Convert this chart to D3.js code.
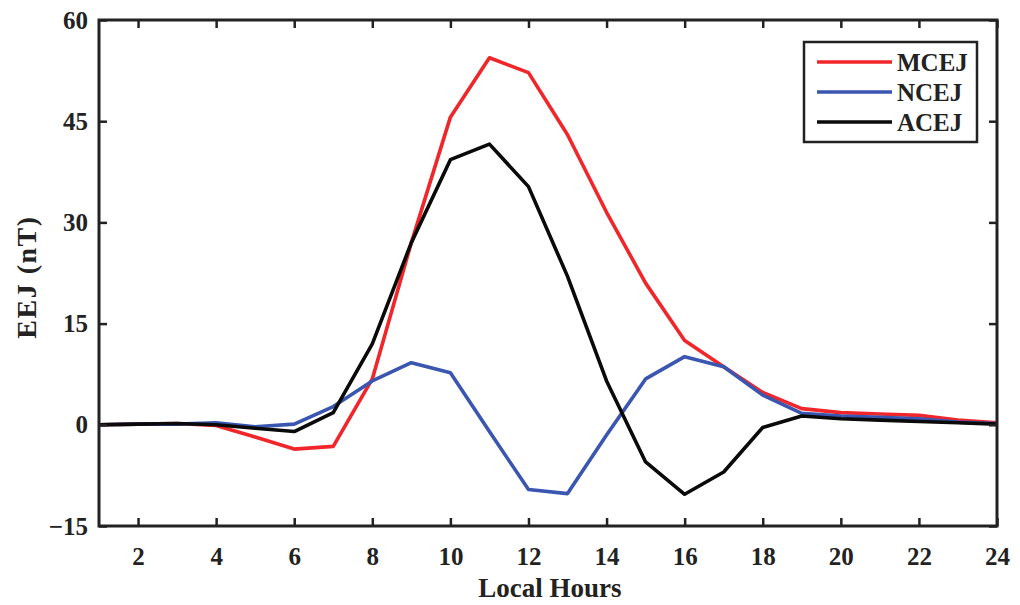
<!DOCTYPE html>
<html><head><meta charset="utf-8">
<script src="https://cdn.jsdelivr.net/npm/d3@7"></script>
<style>body{margin:0;background:#fff}svg text{font-family:"Liberation Serif","Times New Roman",serif;font-weight:bold;fill:#222}</style>
</head><body><svg id="c" width="1020" height="605"></svg>
<script>
const hours = d3.range(1, 25);
const MCEJ = [0, 0.1, 0.2, -0.1, -1.8, -3.6, -3.2, 6.8, 27, 45.6, 54.4, 52.2, 43, 31.5, 21, 12.5, 8.6, 4.8, 2.4, 1.8, 1.6, 1.4, 0.7, 0.3];
const NCEJ = [0, 0.1, 0.1, 0.3, -0.3, 0.1, 2.7, 6.5, 9.2, 7.7, -1, -9.6, -10.2, -1.5, 6.8, 10.1, 8.6, 4.4, 1.7, 1.3, 1.1, 0.9, 0.4, 0.2];
const ACEJ = [0, 0.1, 0.2, 0, -0.5, -1.0, 1.8, 12, 27, 39.3, 41.6, 35.3, 22, 6.5, -5.5, -10.3, -7, -0.4, 1.3, 0.9, 0.7, 0.5, 0.3, 0.1];
const seriesNames = ["MCEJ", "NCEJ", "ACEJ"];
const seriesColors = ["#f0262a", "#3a56b0", "#0a0a0a"];
const xTicks = [2, 4, 6, 8, 10, 12, 14, 16, 18, 20, 22, 24];
const yTicks = [-15, 0, 15, 30, 45, 60];

const svg = d3.select("#c");
const L = 99, R = 997, T = 20, B = 526;
const x = d3.scaleLinear().domain([1, 24]).range([L, R]);
const y = d3.scaleLinear().domain([-15, 60]).range([B, T]);

const data = [MCEJ, NCEJ, ACEJ];
const line = d3.line().x((d, i) => x(hours[i])).y(d => y(d));
svg.append("g").selectAll("path").data(data).join("path")
  .attr("d", line).attr("fill", "none")
  .attr("stroke", (d, i) => seriesColors[i]).attr("stroke-width", 3.6)
  .attr("stroke-linejoin", "round");

// axes
const ax = svg.append("g").attr("transform", `translate(0,${B})`)
  .call(d3.axisBottom(x).tickValues(xTicks).tickSizeInner(-8).tickSizeOuter(0).tickPadding(21));
const axT = svg.append("g").attr("transform", `translate(0,${T})`)
  .call(d3.axisTop(x).tickValues(xTicks).tickSizeInner(-8).tickSizeOuter(0).tickFormat(""));
const ay = svg.append("g").attr("transform", `translate(${L},0)`)
  .call(d3.axisLeft(y).tickValues(yTicks).tickSizeInner(-8).tickSizeOuter(0).tickPadding(11));
const ayR = svg.append("g").attr("transform", `translate(${R},0)`)
  .call(d3.axisRight(y).tickValues(yTicks).tickSizeInner(-8).tickSizeOuter(0).tickFormat(""));
[ax, axT, ay, ayR].forEach(g => {
  g.select(".domain").remove();
  g.selectAll(".tick line").attr("stroke", "#222").attr("stroke-width", 2.5);
  g.selectAll(".tick text").attr("font-size", 25).attr("fill", "#222");
});
svg.append("rect").attr("x", L).attr("y", T).attr("width", R - L).attr("height", B - T)
  .attr("fill", "none").attr("stroke", "#222").attr("stroke-width", 3);

svg.append("text").attr("x", 550).attr("y", 597).attr("text-anchor", "middle")
  .attr("font-size", 27).text("Local Hours");
svg.append("text").attr("transform", `translate(36,277) rotate(-90)`)
  .attr("text-anchor", "middle").attr("font-size", 28).attr("letter-spacing", 1.5).text("EEJ (nT)");

// legend
const lg = svg.append("g");
lg.append("rect").attr("x", 804).attr("y", 42).attr("width", 173).attr("height", 100)
  .attr("fill", "#fff").attr("stroke", "#222").attr("stroke-width", 2.5);
seriesNames.forEach((n, i) => {
  const yy = 62 + i * 30;
  lg.append("line").attr("x1", 817).attr("x2", 892).attr("y1", yy).attr("y2", yy)
    .attr("stroke", seriesColors[i]).attr("stroke-width", 3.6);
  lg.append("text").attr("x", 897).attr("y", yy + 9).attr("font-size", 25).text(n);
});
</script></body></html>
